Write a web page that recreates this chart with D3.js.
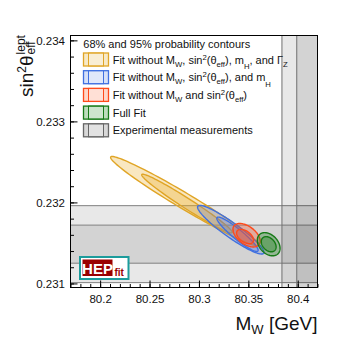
<!DOCTYPE html>
<html>
<head>
<meta charset="utf-8">
<script src="https://cdn.jsdelivr.net/npm/d3@7"></script>
<style>
body { margin: 0; background: #fff; }
svg { font-family: "Liberation Sans", Arial, sans-serif; }
</style>
</head>
<body>
<svg id="chart" width="353" height="340"></svg>
<script>
// axis ranges and ticks
var mwDomain = [80.17, 80.42];
var s2Domain = [0.23095, 0.23406];
var mwTicks = [80.2, 80.25, 80.3, 80.35, 80.4];
var s2Ticks = [0.231, 0.232, 0.233, 0.234];

// experimental bands, [low, high]
var mwBands = [[80.384, 80.444], [80.399, 80.429]];
var s2Bands = [[0.23101, 0.23196], [0.23125, 0.23172]];

// contours: [MW centre, s2 centre, MW half width, s2 half height, correlation]
var fitColors = ["#e0a526", "#4070e0", "#ff4a1a", "#167a16"];
var fitFills = ["rgba(232,170,30,0.28)", "rgba(70,110,230,0.22)", "rgba(255,80,40,0.3)", "rgba(30,130,30,0.35)"];
var contour95 = [
    [80.2854, 0.232017, 0.0748, 0.000550, -0.979],
    [80.3322, 0.231663, 0.0336, 0.000300, -0.93],
    [80.3482, 0.231595, 0.0138, 0.000145, -0.5],
    [80.3706, 0.231484, 0.0115, 0.000143, -0.35]
];
var contour68 = [
    [80.2879, 0.231986, 0.0458, 0.000362, -0.979],
    [80.3390, 0.231607, 0.0209, 0.000212, -0.93],
    [80.3467, 0.231579, 0.0086, 0.0000890, -0.5],
    [80.3706, 0.231484, 0.0075, 0.0000935, -0.35]
];

// legend entries, text split into [piece, style]
var legendTitle = "68% and 95% probability contours";
var legendLabels = [
    [["Fit without M", ""], ["W", "sub"], [", sin", ""], ["2", "sup"], ["(θ", ""], ["eff", "sub"], ["), m", ""], ["H", "low"], [", and Γ", ""], ["Z", "sub"]],
    [["Fit without M", ""], ["W", "sub"], [", sin", ""], ["2", "sup"], ["(θ", ""], ["eff", "sub"], ["), and m", ""], ["H", "low"]],
    [["Fit without M", ""], ["W", "sub"], [" and sin", ""], ["2", "sup"], ["(θ", ""], ["eff", "sub"], [")", ""]],
    [["Full Fit", ""]],
    [["Experimental measurements", ""]]
];
var legendColors = fitColors.concat(["#666"]);
var legendFills = ["#f7e9c6", "#d6e0f8", "#ffd6c8", "#bcdcbc", "#d8d8d8"];

var svg = d3.select("#chart");
var padL = 70.5, padR = 317.5, padT = 35.5, padB = 287.5;

var x = d3.scaleLinear().domain(mwDomain).range([padL, padR]);
var y = d3.scaleLinear().domain(s2Domain).range([padB, padT]);

svg.append("clipPath").attr("id", "plotClip")
    .append("rect")
    .attr("x", padL).attr("y", padT)
    .attr("width", padR - padL).attr("height", padB - padT);

var plot = svg.append("g").attr("clip-path", "url(#plotClip)");

// horizontal and vertical experimental bands
plot.selectAll("rect.s2band").data(s2Bands).enter().append("rect")
    .attr("class", "s2band")
    .attr("x", padL).attr("width", padR - padL)
    .attr("y", function(d) { return y(d[1]); })
    .attr("height", function(d) { return y(d[0]) - y(d[1]); })
    .attr("fill", "rgba(0,0,0,0.09)")
    .attr("stroke", "#808080").attr("stroke-width", 1);

plot.selectAll("rect.mwband").data(mwBands).enter().append("rect")
    .attr("class", "mwband")
    .attr("x", function(d) { return x(d[0]); })
    .attr("width", function(d) { return x(d[1]) - x(d[0]); })
    .attr("y", padT - 5).attr("height", padB - padT + 10)
    .attr("fill", "rgba(0,0,0,0.09)")
    .attr("stroke", "#707070").attr("stroke-width", 1);

// ellipse outline from centre, widths and correlation
function ellipsePoints(c) {
    var pts = [];
    var r = Math.sqrt(1 - c[4] * c[4]);
    for (var i = 0; i < 120; i++) {
        var t = i / 120 * 2 * Math.PI;
        pts.push([c[0] + c[2] * Math.cos(t), c[1] + c[3] * (c[4] * Math.cos(t) + r * Math.sin(t))]);
    }
    return pts;
}
var line = d3.line()
    .x(function(d) { return x(d[0]); })
    .y(function(d) { return y(d[1]); })
    .curve(d3.curveLinearClosed);

contour95.forEach(function(c95, i) {
    [c95, contour68[i]].forEach(function(c) {
        plot.append("path")
            .attr("d", line(ellipsePoints(c)))
            .attr("fill", fitFills[i])
            .attr("stroke", fitColors[i])
            .attr("stroke-width", 1.4);
    });
});

// axes with ticks pointing inward
function minorTicks(domain, step) {
    var out = [];
    var start = Math.ceil(domain[0] / step - 1e-6);
    for (var k = start; k * step <= domain[1] + 1e-9; k++) out.push(+(k * step).toFixed(6));
    return out;
}

var xMinor = svg.append("g").attr("transform", "translate(0," + padB + ")")
    .call(d3.axisBottom(x).tickValues(minorTicks(mwDomain, 0.01)).tickSize(-3.5).tickFormat(""));
var xAxis = svg.append("g").attr("transform", "translate(0," + padB + ")")
    .call(d3.axisBottom(x).tickValues(mwTicks).tickSize(-7).tickPadding(7.5)
        .tickFormat(function(d) { return d3.format("")(d); }));

var yMinor = svg.append("g").attr("transform", "translate(" + padL + ",0)")
    .call(d3.axisLeft(y).tickValues(minorTicks(s2Domain, 0.0002)).tickSize(-3.5).tickFormat(""));
var yAxis = svg.append("g").attr("transform", "translate(" + padL + ",0)")
    .call(d3.axisLeft(y).tickValues(s2Ticks).tickSize(-7).tickPadding(5.5)
        .tickFormat(d3.format(".3f")));

[xMinor, xAxis, yMinor, yAxis].forEach(function(a) {
    a.select(".domain").remove();
    a.selectAll("line").attr("stroke", "#000");
    a.selectAll("text").style("font-size", "11.5px").attr("fill", "#111").style("font-family", "Liberation Sans, Arial, sans-serif");
});

// frame
svg.append("rect")
    .attr("x", padL).attr("y", padT)
    .attr("width", padR - padL).attr("height", padB - padT)
    .attr("fill", "none").attr("stroke", "#000").attr("stroke-width", 1);

// rich text helper (sub / superscripts)
function richText(sel, parts, size) {
    var text = sel.append("text").style("font-size", size + "px").attr("fill", "#111");
    var shift = 0;
    parts.forEach(function(p) {
        var s = p[1] === "sub" ? 3 : p[1] === "low" ? 5.5 : p[1] === "sup" ? -4 : 0;
        text.append("tspan")
            .attr("dy", s - shift)
            .style("font-size", p[1] ? (size * 0.7) + "px" : null)
            .text(p[0]);
        shift = s;
    });
    return text;
}

// legend
var legend = svg.append("g");
legend.append("text")
    .attr("x", 83.3).attr("y", 48)
    .style("font-size", "11px").attr("fill", "#111")
    .text(legendTitle);

legendLabels.forEach(function(parts, i) {
    var cy = 59.5 + i * 17.7;
    var row = legend.append("g");
    row.append("rect")
        .attr("x", 83.5).attr("y", cy - 6.5)
        .attr("width", 25).attr("height", 13)
        .attr("fill", legendFills[i]).attr("stroke", legendColors[i]).attr("stroke-width", 1.3);
    row.append("rect")
        .attr("x", 88.5).attr("y", cy - 6.5)
        .attr("width", 15).attr("height", 13)
        .attr("fill", "rgba(255,255,255,0.25)").attr("stroke", legendColors[i]).attr("stroke-width", 1);
    richText(row, parts, 11).attr("x", 112.7).attr("y", cy + 4);
});

// y title: sin^2 theta_eff^lept
var yTitle = svg.append("g").attr("transform", "translate(33,97) rotate(-90)");
var yMain = yTitle.append("text").style("font-size", "19px").attr("fill", "#111");
yMain.append("tspan").text("sin");
yMain.append("tspan").attr("dy", -7).style("font-size", "12px").text("2");
yMain.append("tspan").attr("dy", 7).text("θ");
var L = yMain.node().getComputedTextLength();
yTitle.append("text").attr("x", L + 1).attr("y", -8).style("font-size", "12px").attr("fill", "#111").text("lept");
yTitle.append("text").attr("x", L + 1).attr("y", 2).style("font-size", "12px").attr("fill", "#111").text("eff");

// x title
var xTitle = svg.append("text")
    .attr("x", padR).attr("y", 330)
    .attr("text-anchor", "end")
    .style("font-size", "19px").attr("fill", "#111");
xTitle.append("tspan").text("M");
xTitle.append("tspan").attr("dy", 4).style("font-size", "13px").text("W");
xTitle.append("tspan").attr("dy", -4).text(" [GeV]");

// HEPfit logo
var logo = svg.append("g");
logo.append("rect")
    .attr("x", 80).attr("y", 257).attr("width", 48.5).attr("height", 22)
    .attr("fill", "#fff").attr("stroke", "#1c9c9c").attr("stroke-width", 2);
logo.append("rect")
    .attr("x", 82.5).attr("y", 259.5).attr("width", 30).attr("height", 16.5)
    .attr("fill", "#990000");
logo.append("text")
    .attr("x", 97.5).attr("y", 273.5).attr("text-anchor", "middle")
    .style("font-size", "15px").style("font-weight", "bold").attr("fill", "#fff")
    .text("HEP");
logo.append("text")
    .attr("x", 114.5).attr("y", 275.5)
    .style("font-size", "10px").style("font-weight", "bold").attr("fill", "#990000")
    .text("fit");
</script>
</body>
</html>
